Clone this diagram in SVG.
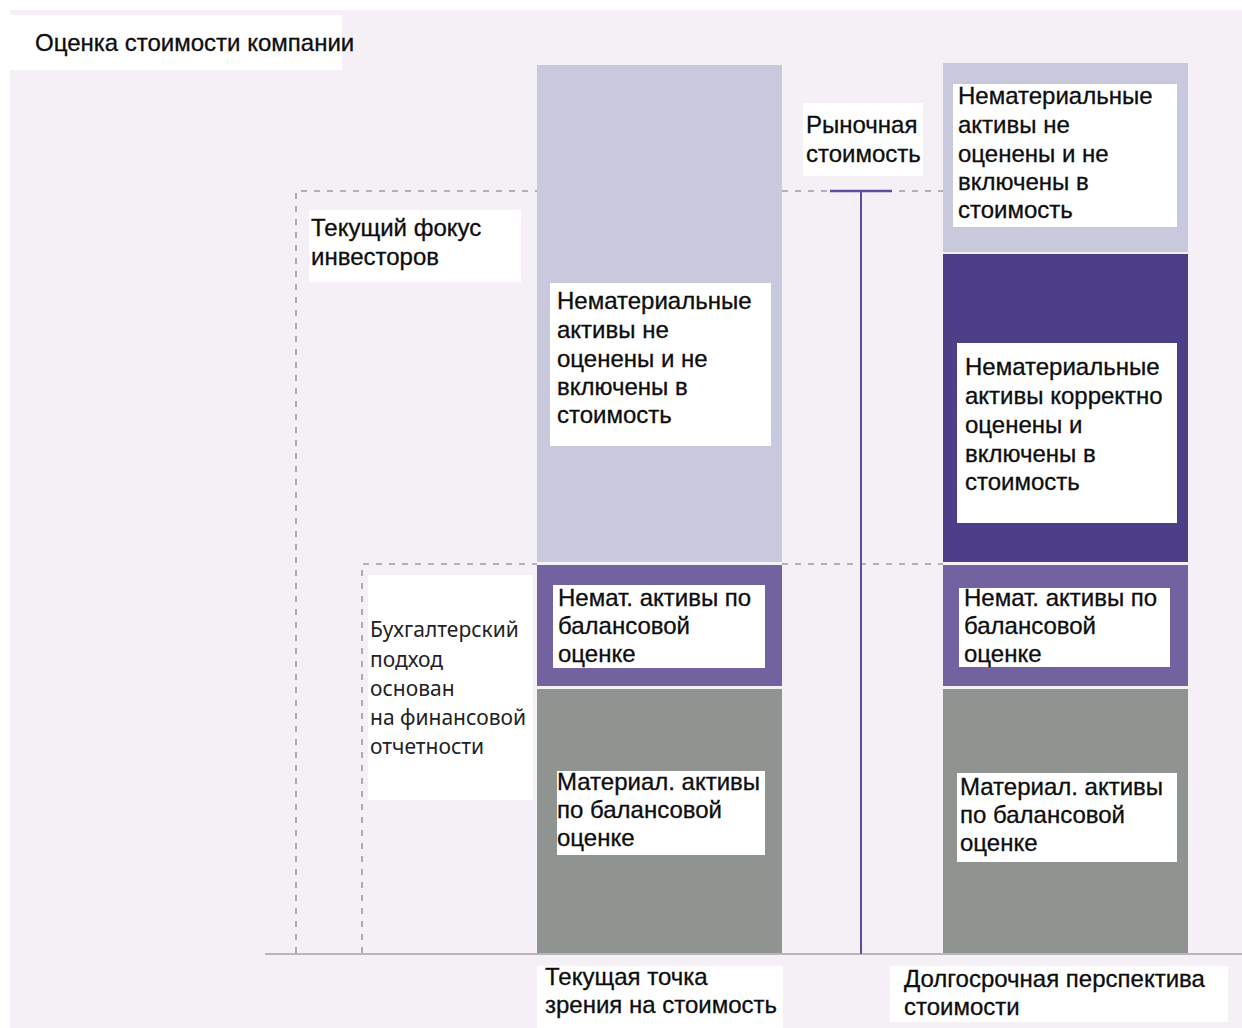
<svg xmlns="http://www.w3.org/2000/svg" width="1242" height="1028" viewBox="0 0 1242 1028">
<style>
.t{font-family:"Liberation Sans",Arial,sans-serif;font-size:24px;fill:#0d0d0d;stroke:#0d0d0d;stroke-width:0.3}
.n{font-family:"Noto Sans","Open Sans",sans-serif;font-size:21px;fill:#222}
.box{fill:#ffffff}
.dash{stroke:#9c9ca4;stroke-width:1.6;stroke-dasharray:6 7;fill:none}
.light{fill:#c9c9dd}
.dark{fill:#4c3f87}
.mid{fill:#7263a0}
.gray{fill:#8f9491}
</style>
<rect x="0" y="0" width="1242" height="1028" fill="#ffffff"/>
<rect x="10" y="10" width="1232" height="1018" fill="#f4f0f6"/>

<g id="title">
<rect class="box" x="10" y="15" width="332" height="55"/>
<text class="t" x="35" y="51">Оценка стоимости компании</text>
</g>

<g id="connectors">
<path class="dash" d="M296 953 V191 H537 M782 191 H943"/>
<path class="dash" d="M362 953 V564 H537 M782 564 H943"/>
<line x1="265" y1="954" x2="1242" y2="954" stroke="#a3a3a8" stroke-width="1.5"/>
<line x1="861" y1="191" x2="861" y2="954" stroke="#5a4f9c" stroke-width="2"/>
<line x1="830" y1="191" x2="892" y2="191" stroke="#5a4f9c" stroke-width="2.5"/>
</g>

<g id="left-column">
<rect class="light" x="537" y="65" width="245" height="497"/>
<rect class="mid" x="537" y="565" width="245" height="121"/>
<rect class="gray" x="537" y="689" width="245" height="264"/>
</g>

<g id="right-column">
<rect class="light" x="943" y="63" width="245" height="189"/>
<rect class="dark" x="943" y="254" width="245" height="308"/>
<rect class="mid" x="943" y="565" width="245" height="121"/>
<rect class="gray" x="943" y="689" width="245" height="264"/>
</g>

<g id="focus-label">
<rect class="box" x="309" y="210" width="212" height="72"/>
<text class="t" x="311" y="236">Текущий фокус</text>
<text class="t" x="311" y="265">инвесторов</text>
</g>

<g id="market-label">
<rect class="box" x="803" y="103" width="120" height="73"/>
<text class="t" x="806" y="133">Рыночная</text>
<text class="t" x="806" y="162">стоимость</text>
</g>

<g id="accounting-label">
<rect class="box" x="368" y="575" width="165" height="225"/>
<text class="n" x="370" y="637">Бухгалтерский</text>
<text class="n" x="370" y="667">подход</text>
<text class="n" x="370" y="696">основан</text>
<text class="n" x="370" y="725">на финансовой</text>
<text class="n" x="370" y="754">отчетности</text>
</g>

<g id="left-intangible-unvalued">
<rect class="box" x="550" y="283" width="221" height="163"/>
<text class="t" x="557" y="309">Нематериальные</text>
<text class="t" x="557" y="338">активы не</text>
<text class="t" x="557" y="367">оценены и не</text>
<text class="t" x="557" y="395">включены в</text>
<text class="t" x="557" y="423">стоимость</text>
</g>

<g id="left-intangible-book">
<rect class="box" x="553" y="585" width="212" height="83"/>
<text class="t" x="558" y="606">Немат. активы по</text>
<text class="t" x="558" y="634">балансовой</text>
<text class="t" x="558" y="662">оценке</text>
</g>

<g id="left-tangible-book">
<rect class="box" x="557" y="771" width="208" height="84"/>
<text class="t" x="557" y="790">Материал. активы</text>
<text class="t" x="557" y="818">по балансовой</text>
<text class="t" x="557" y="846">оценке</text>
</g>

<g id="right-intangible-unvalued">
<rect class="box" x="953" y="84" width="224" height="143"/>
<text class="t" x="958" y="104">Нематериальные</text>
<text class="t" x="958" y="133">активы не</text>
<text class="t" x="958" y="162">оценены и не</text>
<text class="t" x="958" y="190">включены в</text>
<text class="t" x="958" y="218">стоимость</text>
</g>

<g id="right-intangible-valued">
<rect class="box" x="957" y="343" width="220" height="180"/>
<text class="t" x="965" y="375">Нематериальные</text>
<text class="t" x="965" y="404">активы корректно</text>
<text class="t" x="965" y="433">оценены и</text>
<text class="t" x="965" y="462">включены в</text>
<text class="t" x="965" y="490">стоимость</text>
</g>

<g id="right-intangible-book">
<rect class="box" x="959" y="588" width="211" height="79"/>
<text class="t" x="964" y="606">Немат. активы по</text>
<text class="t" x="964" y="634">балансовой</text>
<text class="t" x="964" y="662">оценке</text>
</g>

<g id="right-tangible-book">
<rect class="box" x="957" y="773" width="220" height="89"/>
<text class="t" x="960" y="795">Материал. активы</text>
<text class="t" x="960" y="823">по балансовой</text>
<text class="t" x="960" y="851">оценке</text>
</g>

<g id="current-view-label">
<rect class="box" x="537" y="966" width="246" height="62"/>
<text class="t" x="545" y="985">Текущая точка</text>
<text class="t" x="545" y="1013">зрения на стоимость</text>
</g>

<g id="long-term-label">
<rect class="box" x="890" y="966" width="338" height="56"/>
<text class="t" x="904" y="987">Долгосрочная перспектива</text>
<text class="t" x="904" y="1015">стоимости</text>
</g>
</svg>
